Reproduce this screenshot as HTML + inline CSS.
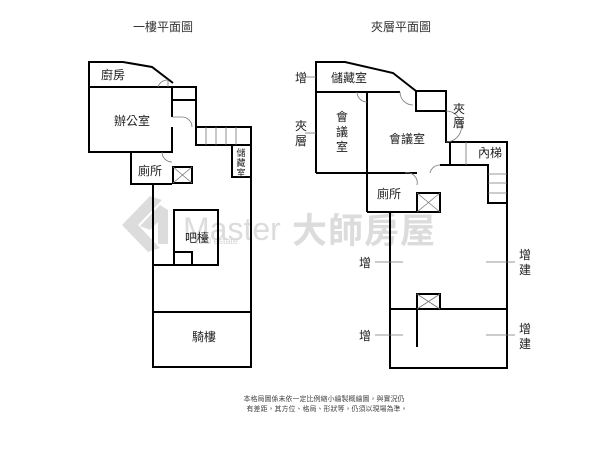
<!DOCTYPE html>
<html><head><meta charset="utf-8"><style>
html,body{margin:0;padding:0;background:#fff;}
svg{display:block;font-family:"Liberation Sans","Noto Sans CJK TC",sans-serif;}
</style></head><body>
<svg width="600" height="452" viewBox="0 0 600 452" xmlns="http://www.w3.org/2000/svg">
<g fill="#dcdcdc">
<polygon points="122,225 150,196 162,200 138,225 160,248 148,252"/>
<polygon points="140,226 160,205 168,210 168,244 158,244 158,222 150,230"/>
<text x="183" y="240" font-size="32" font-family="Liberation Sans,sans-serif">Master</text>
<text x="196" y="244" font-size="9" fill="#d4d4d4">real estate</text>
<text x="292" y="243" font-size="35" font-weight="bold" font-family="Noto Sans CJK TC,sans-serif" letter-spacing="1">大師房屋</text>
</g>
<text x="163" y="31" font-size="12" text-anchor="middle" fill="#333">一樓平面圖</text>
<text x="401" y="31" font-size="12" text-anchor="middle" fill="#333">夾層平面圖</text>
<g fill="none" stroke="#000" stroke-width="2">
<polyline points="172,87 89,87 89,62 123,62 152,67 173,83"/>
<polyline points="89,87 89,152 172,152 172,127"/>
<line x1="172" y1="117" x2="172" y2="87"/>
<polyline points="172,87 196,87 196,100 172,100"/>
<polyline points="196,87 196,127 251,127 251,367 153,367 153,184"/>
<polyline points="196,127 196,145 251,145"/>
<rect x="232" y="145" width="19" height="32"/>
<polyline points="131,152 131,184 172,184"/>
<rect x="173" y="167" width="19" height="16"/>
<rect x="174" y="210" width="44" height="55"/>
<rect x="174" y="252" width="18" height="13"/>
<line x1="153" y1="265" x2="174" y2="265"/>
<line x1="153" y1="312" x2="251" y2="312"/>
<polyline points="316,173 316,62 345,62 393,73 416,91"/>
<line x1="316" y1="92" x2="400" y2="92"/>
<rect x="416" y="91" width="30" height="20"/>
<polyline points="446,111 446,142 507,142 507,368 390,368 390,212"/>
<line x1="367" y1="92" x2="367" y2="212"/>
<line x1="316" y1="173" x2="417" y2="173"/>
<polyline points="450,142 450,165 488,165 488,203 507,203"/>
<polyline points="367,212 417,212"/>
<rect x="417" y="193" width="23" height="19"/>
<rect x="417" y="294" width="23" height="15"/>
<line x1="390" y1="309" x2="507" y2="309"/>
<line x1="417" y1="309" x2="417" y2="347"/>
<line x1="440" y1="165" x2="450" y2="165"/>
</g>
<g fill="none" stroke="#777" stroke-width="0.8">
<line x1="206" y1="127" x2="206" y2="145"/><line x1="216" y1="127" x2="216" y2="145"/><line x1="226" y1="127" x2="226" y2="145"/><line x1="236" y1="127" x2="236" y2="145"/>
<line x1="466" y1="142" x2="466" y2="165"/>
<line x1="488" y1="174" x2="507" y2="174"/><line x1="488" y1="183" x2="507" y2="183"/><line x1="488" y1="193" x2="507" y2="193"/>
<line x1="173" y1="167" x2="192" y2="183"/><line x1="192" y1="167" x2="173" y2="183"/>
<line x1="417" y1="193" x2="440" y2="212"/><line x1="440" y1="193" x2="417" y2="212"/>
<line x1="417" y1="294" x2="440" y2="309"/><line x1="440" y1="294" x2="417" y2="309"/>
<path d="M158,87 A10,10 0 0 1 168,80 L168,87"/>
<path d="M182,117 A10,10 0 0 1 192,127 M182,117 L172,117"/>
<path d="M162,152 A10,10 0 0 0 172,162"/>
<path d="M400,92 A13,13 0 0 0 413,105"/>
<path d="M357,92 A10,10 0 0 0 367,102"/>
<path d="M446,111 A12,12 0 0 1 446,142"/>
<path d="M430,173 A10,10 0 0 1 440,165"/>
<path d="M405,173 A10,10 0 0 1 417,185"/>
<line x1="305" y1="77" x2="316" y2="77"/><line x1="305" y1="133" x2="316" y2="133"/>
<line x1="375" y1="262" x2="403" y2="262"/><line x1="486" y1="262" x2="515" y2="262"/>
<line x1="375" y1="335" x2="403" y2="335"/><line x1="486" y1="335" x2="515" y2="335"/>
</g>
<g font-size="12" fill="#222" text-anchor="middle">
<text x="113" y="79">廚房</text>
<text x="132" y="125">辦公室</text>
<text x="150" y="175">廁所</text>
<text x="197" y="242">吧檯</text>
<text x="204" y="341">騎樓</text>
<text x="241" y="156" font-size="9">儲</text><text x="241" y="166" font-size="9">藏</text><text x="241" y="176" font-size="9">室</text>
<text x="301" y="82">增</text>
<text x="349" y="82">儲藏室</text>
<text x="301" y="130">夾</text><text x="301" y="145">層</text>
<text x="342" y="121">會</text><text x="342" y="136">議</text><text x="342" y="151">室</text>
<text x="407" y="143">會議室</text>
<text x="459" y="113">夾</text><text x="459" y="127">層</text>
<text x="490" y="157">內梯</text>
<text x="389" y="198">廁所</text>
<text x="365" y="267">增</text>
<text x="525" y="259">增</text><text x="525" y="274">建</text>
<text x="365" y="340">增</text>
<text x="525" y="333">增</text><text x="525" y="348">建</text>
</g>
<g font-size="7" fill="#444" text-anchor="middle">
<text x="324" y="401">本格局圖係未依一定比例縮小繪製概繪圖，與實況仍</text>
<text x="327" y="411">有差距，其方位、格局、形狀等，仍須以現場為準。</text>
</g>
</svg>
</body></html>
